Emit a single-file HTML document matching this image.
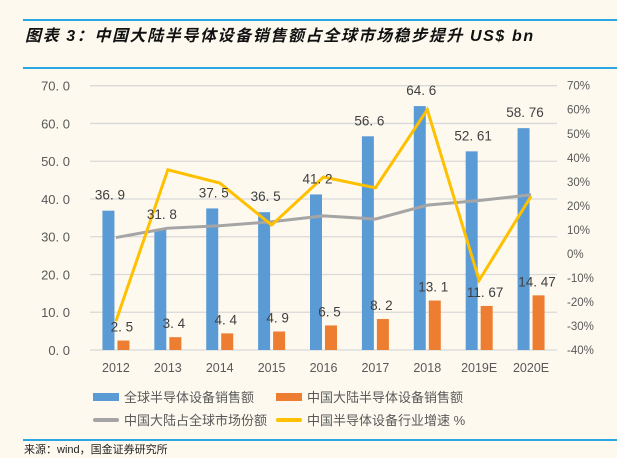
<!DOCTYPE html>
<html><head><meta charset="utf-8"><style>
html,body{margin:0;padding:0;background:#fdf9ef;}
body{width:617px;height:458px;position:relative;overflow:hidden;font-family:"Liberation Sans","Noto Sans CJK SC",sans-serif;}
.rule{position:absolute;left:23px;width:594px;height:2px;background:#2aa7e3;}
#title{position:absolute;left:25px;top:22px;font-size:16px;letter-spacing:1.6px;font-weight:bold;font-style:italic;color:#111;white-space:nowrap;}
#src{position:absolute;left:24px;top:441px;font-size:11px;color:#222;}
</style></head><body>
<div class="rule" style="top:19px"></div>
<div id="title">图表 3：中国大陆半导体设备销售额占全球市场稳步提升 US$ bn</div>
<div class="rule" style="top:67px"></div>
<svg id="chart" width="617" height="458" style="position:absolute;left:0;top:0" font-family="'Liberation Sans','Noto Sans CJK SC',sans-serif"></svg>
<div class="rule" style="top:439px"></div>
<div id="src">来源：wind，国金证券研究所</div>
<script>
const categories=["2012","2013","2014","2015","2016","2017","2018","2019E","2020E"];
const globalSales=[36.9,31.8,37.5,36.5,41.2,56.6,64.6,52.61,58.76];
const chinaSales=[2.5,3.4,4.4,4.9,6.5,8.2,13.1,11.67,14.47];
const globalLabels=["36.9","31.8","37.5","36.5","41.2","56.6","64.6","52.61","58.76"];
const chinaLabels=["2.5","3.4","4.4","4.9","6.5","8.2","13.1","11.67","14.47"];
const chinaShare=[6.8,10.7,11.7,13.4,15.8,14.5,20.3,22.2,24.6];
const growth=[-28,35,29.5,12,32,27.5,60,-11,24];
const leftTicks=[0,10,20,30,40,50,60,70];
const rightTicks=[-40,-30,-20,-10,0,10,20,30,40,50,60,70];
const svg=document.getElementById('chart');
const NS='http://www.w3.org/2000/svg';
const x0=90,x1=557,yB=350,yT=85.7;
const step=(x1-x0)/categories.length;
const xc=i=>x0+step*(i+0.5);
const yL=v=>yB-(v/70)*(yB-yT);
const yR=v=>yB-((v+40)/110)*(yB-yT);
function el(t,a,txt){const e=document.createElementNS(NS,t);for(const k in a)e.setAttribute(k,a[k]);if(txt!=null)e.textContent=txt;svg.appendChild(e);return e;}
leftTicks.forEach(v=>{
 const g=el('line',{x1:x0,x2:x1,y1:yL(v),y2:yL(v),stroke:'#d9d9d9','stroke-width':1.3});
 
 
 const t=el('text',{x:70,y:yL(v)+5,'text-anchor':'end','font-size':13,fill:'#595959'},v.toFixed(1).replace('.','. '));
 
 
});
rightTicks.forEach(v=>{
 const t=el('text',{x:567,y:yR(v)+4,'font-size':11.5,fill:'#595959'},v+'%');
 
 
});
categories.forEach((c,i)=>{
 const t=el('text',{x:xc(i),y:372,'text-anchor':'middle','font-size':12.5,fill:'#595959'},c);
 
 
 const b=el('rect',{x:xc(i)-13.5,y:yL(globalSales[i]),width:12,height:yB-yL(globalSales[i]),fill:'#5b9bd5'});
 
 
 const o=el('rect',{x:xc(i)+1.5,y:yL(chinaSales[i]),width:12,height:yB-yL(chinaSales[i]),fill:'#ed7d31'});
 
 
});
function line(vals,color,name){
 const p=el('polyline',{points:vals.map((v,i)=>xc(i)+','+yR(v)).join(' '),fill:'none',stroke:color,'stroke-width':3,'stroke-linejoin':'miter'});
 
 
}
line(chinaShare,'#a5a5a5','line-china-share');
line(growth,'#ffc000','line-china-growth');
categories.forEach((c,i)=>{
 const t=el('text',{x:xc(i)-6,y:yL(globalSales[i])-11,'text-anchor':'middle','font-size':13.5,fill:'#404040'},globalLabels[i].replace('.','. '));
 
 
 const u=el('text',{x:xc(i)+6,y:yL(chinaSales[i])-9,'text-anchor':'middle','font-size':13.5,fill:'#404040'},chinaLabels[i].replace('.','. '));
 
 
});
const legend=[["全球半导体设备销售额",'#5b9bd5',93,397,8],["中国大陆半导体设备销售额",'#ed7d31',276,397,8],["中国大陆占全球市场份额",'#a5a5a5',93,420,4],["中国半导体设备行业增速 %",'#ffc000',276,420,4]];
legend.forEach(l=>{
 const r=el('rect',{x:l[2],y:l[3]-l[4]/2,width:26,height:l[4],fill:l[1],rx:l[4]==4?2:0});
 
 
 const t=el('text',{x:l[2]+31,y:l[3]+5,'font-size':13,fill:'#595959'},l[0]);
 
 
});
</script>
</body></html>
